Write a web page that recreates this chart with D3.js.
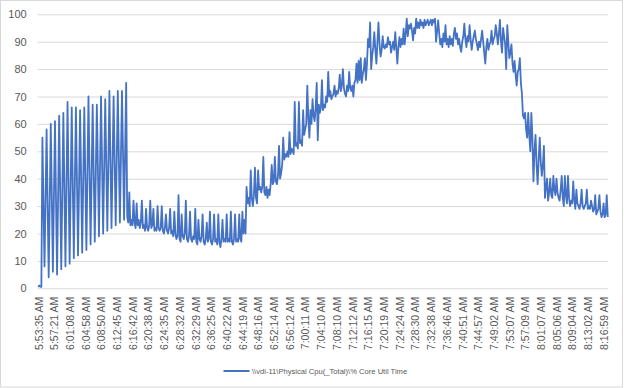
<!DOCTYPE html>
<html>
<head>
<meta charset="utf-8">
<script src="https://cdn.jsdelivr.net/npm/d3@7"></script>
<style>
  html, body { margin: 0; padding: 0; background: #fff; }
  svg { display: block; }
</style>
</head>
<body>
<div id="chart"></div>
<script>
// ---------- DATA ----------
const seriesName = "\\\\vdi-11\\Physical Cpu(_Total)\\% Core Util Time";

const tickLabels = [
  "5:53:35 AM","5:57:21 AM","6:01:08 AM","6:04:58 AM","6:08:50 AM","6:12:45 AM",
  "6:16:42 AM","6:20:38 AM","6:24:35 AM","6:28:32 AM","6:32:29 AM","6:36:25 AM",
  "6:40:22 AM","6:44:19 AM","6:48:16 AM","6:52:14 AM","6:56:12 AM","7:00:11 AM",
  "7:04:10 AM","7:08:10 AM","7:12:12 AM","7:16:15 AM","7:20:19 AM","7:24:24 AM",
  "7:28:30 AM","7:32:38 AM","7:36:46 AM","7:40:51 AM","7:44:57 AM","7:49:02 AM",
  "7:53:07 AM","7:57:09 AM","8:01:07 AM","8:05:06 AM","8:09:04 AM","8:13:02 AM",
  "8:16:59 AM"
];
const labelEvery = 15;           // one category label every 15 samples
const yTicks = [0,10,20,30,40,50,60,70,80,90,100];

// samples 0..84 : start-up sawtooth
const rampUp = [0.5,1,0.6,0.5,
  55,31,8,33, 58,30,4,32, 60,33,6,34, 61,32,5,34, 63,35,7,35,
  64,36,8,38, 68,38,9,37, 66,38,11,39, 66,39,12,38, 65,39,13,40,
  66,40,14,42, 70,43,16,41, 67,42,17,42, 67,44,19,44, 70,45,20,44,
  69,45,21,46, 72,46,22,46, 70,46,23,47, 72,48,24,48, 72,49,25,50,
  75];
// samples 85..197 : low plateau
const lowPlateau = [26,24,35,23,25,
  23,32,24,22,31,23,25,22,24,32,
  22,23,21,29,22,21,23,32,22,23,
  29,21,22,21,30,22,21,22,30,21,
  20,22,27,21,20,22,29,20,21,19,
  28,20,18,19,34,18,17,27,19,18,
  20,32,18,17,19,28,18,17,19,18,
  29,17,16,25,18,17,19,27,17,16,
  18,24,17,18,28,17,16,18,27,17,
  18,16,27,17,15,18,25,17,18,17,
  27,17,18,17,28,17,16,18,27,17,
  18,17,27,18,17,28,20,25];
// samples 198..305 : climb
const climb = [20,37,31,33,30,43,33,30,34,44,
  33,31,43,36,37,35,37,48,35,34,
  37,33,36,34,38,45,38,39,48,39,
  38,41,52,40,42,45,55,47,49,48,
  50,48,57,49,51,50,49,68,52,53,
  51,68,53,54,52,65,56,58,60,74,
  62,55,65,60,69,63,61,66,75,54,
  67,64,66,76,65,67,66,70,68,79,
  70,72,69,70,71,74,70,72,71,73,
  78,72,74,80,73,71,70,74,72,79,
  73,72,74,70,75,76,82,75];
// samples 306..426 : high plateau
const highPlateau = [83,76,84,75,78,80,84,76,82,91,
  88,97,80,85,88,93.5,87,82,90,97,
  89,84.6,87,92,88,87.5,89,88,91.7,89,
  90,86,88,90,87,93.5,88,82,88,91.7,
  88,91,89,94.8,89,93,98.4,92,96,94.8,
  96.6,94,90.5,95,93,98.4,95,97,95,98,
  96,97,95,98,96,97,98,96,97,98,
  96,98,97,98.4,90,94,97.8,93,89,91,
  88,93,90,96,89,91,88,92,89,91,
  88.5,93,95,91,93,89,91,88,86.3,90,
  92,96.6,91,88,92,90,96,91,87,90,
  92,94,91,89,86.9,90,88,91,94,90,
  86];
// samples 427..544 : decline and tail
const decline = [82,88,91,87,89,90,94,89,91,92,
  96,93,89,93,98,90,86,95,92,89,
  80,96,90,84,86,89,82,79,83,78,
  74,79,80,84,75,71,63,62,64,58,
  55,64,56,50,64,55,39,50,56,45,
  38,47,55,46,41,45,52,33,37,40,
  32,35,40,34,33,41,36,34,40,35,
  33,32,36,41,33,30,41,34,31,41,
  33,30,32,31,39,32,29,36,31,30,
  29,31,36,30,29,30,31,36,29,30,
  29,32,30,28,29,34,27,28,29,34,
  28,26,27,31,26,27,34,26];

const values = rampUp.concat(lowPlateau, climb, highPlateau, decline);

// ---------- CHART ----------
const W = 624, H = 388;
const plotLeft = 37.7, plotRight = 608.3, plotTop = 14.3, plotBottom = 288.3;
const lineColor = "#4472c4";
const textColor = "#595959";
const gridColor = "#d9d9d9";
const font = "'Liberation Sans', Arial, sans-serif";

const svg = d3.select("#chart").append("svg")
  .attr("width", W).attr("height", H);

svg.append("rect")
  .attr("x", 0.5).attr("y", 0.5).attr("width", W - 2).attr("height", H - 1.5)
  .attr("fill", "#fff").attr("stroke", gridColor).attr("stroke-width", 1);

const x = d3.scaleLinear().domain([-0.5, values.length - 0.5]).range([plotLeft, plotRight]);
const y = d3.scaleLinear().domain([0, 100]).range([plotBottom, plotTop]);

// gridlines + y labels
const yAxis = svg.append("g")
  .attr("transform", `translate(${plotLeft},0)`)
  .call(d3.axisLeft(y).tickValues(yTicks).tickSize(-(plotRight - plotLeft)).tickPadding(11));
yAxis.select(".domain").remove();
yAxis.selectAll(".tick line").attr("stroke", gridColor).attr("stroke-width", 1);
yAxis.selectAll(".tick text")
  .attr("fill", textColor).style("font-family", font).style("font-size", "11px");

// x axis category labels
const xAxis = svg.append("g")
  .attr("transform", `translate(0,${plotBottom})`)
  .call(d3.axisBottom(x)
    .tickValues(d3.range(tickLabels.length).map(k => k * labelEvery))
    .tickFormat((d, k) => tickLabels[k])
    .tickSize(0));
xAxis.select(".domain").remove();
xAxis.selectAll(".tick text")
  .attr("fill", textColor).style("font-family", font).style("font-size", "10.5px")
  .attr("text-anchor", "end")
  .attr("transform", "rotate(-90)")
  .attr("x", -8.5).attr("y", 0).attr("dy", "0.36em");

// data line
const line = d3.line().x((d, i) => x(i)).y(d => y(d));
svg.append("path")
  .datum(values)
  .attr("d", line)
  .attr("fill", "none")
  .attr("stroke", lineColor)
  .attr("stroke-width", 1.8)
  .attr("stroke-linejoin", "round");

// legend
const lg = svg.append("g").attr("transform", "translate(223.5,371)");
lg.append("line").attr("x1", 0).attr("x2", 26).attr("y1", 0).attr("y2", 0)
  .attr("stroke", lineColor).attr("stroke-width", 2);
lg.append("text").attr("x", 28.5).attr("y", 0).attr("dy", "0.35em")
  .attr("fill", textColor).style("font-family", font).style("font-size", "7.6px")
  .text(seriesName);
</script>
</body>
</html>
